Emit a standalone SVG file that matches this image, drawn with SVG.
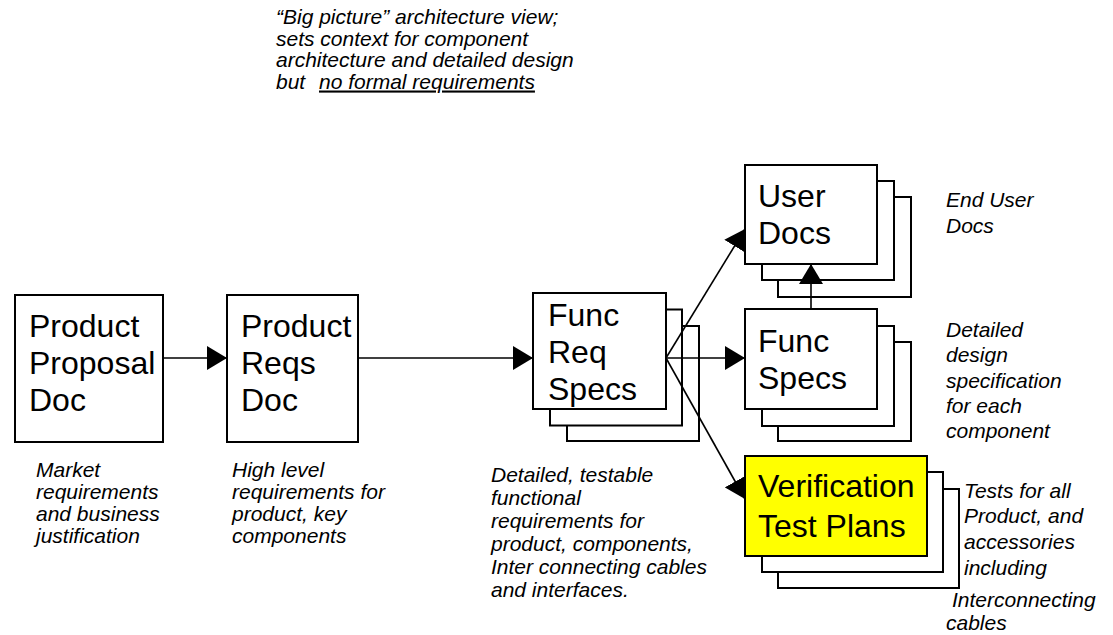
<svg xmlns="http://www.w3.org/2000/svg" width="1113" height="635" viewBox="0 0 1113 635">
<style>
.box{fill:#fff;stroke:#000;stroke-width:2}
.hl{fill:#ffff00;stroke:#000;stroke-width:2}
.big{font-family:"Liberation Sans",Arial,sans-serif;font-size:32px;fill:#000}
.note{font-family:"Liberation Sans",Arial,sans-serif;font-size:21px;font-style:italic;fill:#000}
.conn{stroke:#000;stroke-width:1.6;fill:none;marker-end:url(#arr)}
</style>
<defs>
<marker id="arr" markerUnits="userSpaceOnUse" markerWidth="20" markerHeight="24" viewBox="0 0 20 24" refX="20" refY="12" orient="auto">
<path d="M0,0 L20,12 L0,24 z" fill="#000"/>
</marker>
</defs>
<g id="top-note">
<text class="note" x="276" y="24">“Big picture” architecture view;</text>
<text class="note" x="276" y="45.5">sets context for component</text>
<text class="note" x="276" y="67">architecture and detailed design</text>
<text class="note" x="276" y="88.5">but<tspan x="319" text-decoration="underline">no formal requirements</tspan></text>
</g>
<g id="node-proposal">
<rect class="box" x="15" y="295" width="148" height="147"/>
<text class="big" x="29" y="337">Product</text>
<text class="big" x="29" y="374">Proposal</text>
<text class="big" x="29" y="411">Doc</text>
</g>
<g id="node-reqs">
<rect class="box" x="227" y="295" width="131" height="147"/>
<text class="big" x="241" y="337">Product</text>
<text class="big" x="241" y="374">Reqs</text>
<text class="big" x="241" y="411">Doc</text>
</g>
<g id="node-funcreq">
<rect class="box" x="567" y="326" width="132" height="115"/>
<rect class="box" x="550" y="309.5" width="132" height="116"/>
<rect class="box" x="533" y="293" width="133" height="116"/>
<text class="big" x="548" y="326">Func</text>
<text class="big" x="548" y="363">Req</text>
<text class="big" x="548" y="400">Specs</text>
</g>
<g id="node-userdocs">
<rect class="box" x="778" y="197" width="133" height="100"/>
<rect class="box" x="762" y="181" width="132" height="99"/>
<rect class="box" x="745" y="165" width="132" height="99"/>
<text class="big" x="758" y="207">User</text>
<text class="big" x="758" y="244">Docs</text>
</g>
<g id="node-funcspecs">
<rect class="box" x="778" y="342" width="133" height="99"/>
<rect class="box" x="762" y="326" width="132" height="100"/>
<rect class="box" x="745" y="309" width="132" height="100"/>
<text class="big" x="758" y="352">Func</text>
<text class="big" x="758" y="389">Specs</text>
</g>
<g id="node-vtp">
<rect class="box" x="778" y="489" width="181" height="99"/>
<rect class="box" x="762" y="472" width="181" height="100"/>
<rect class="hl" x="745" y="456" width="182" height="100"/>
<text class="big" x="758" y="497">Verification</text>
<text class="big" x="758" y="537">Test Plans</text>
</g>
<g id="connectors">
<line class="conn" x1="163" y1="358" x2="227" y2="358"/>
<line class="conn" x1="358" y1="358" x2="533" y2="358"/>
<line class="conn" x1="666" y1="358" x2="745" y2="358"/>
<line class="conn" x1="666" y1="358" x2="745" y2="229"/>
<line class="conn" x1="666" y1="358" x2="745" y2="499"/>
<line class="conn" x1="811" y1="309" x2="811" y2="264"/>
</g>
<g id="notes">
<text class="note" x="36" y="477">Market</text>
<text class="note" x="36" y="499">requirements</text>
<text class="note" x="36" y="521">and business</text>
<text class="note" x="36" y="543">justification</text>
<text class="note" x="232" y="477">High level</text>
<text class="note" x="232" y="499">requirements for</text>
<text class="note" x="232" y="521">product, key</text>
<text class="note" x="232" y="543">components</text>
<text class="note" x="491" y="482">Detailed, testable</text>
<text class="note" x="491" y="505">functional</text>
<text class="note" x="491" y="528">requirements for</text>
<text class="note" x="491" y="551">product, components,</text>
<text class="note" x="491" y="574">Inter connecting cables</text>
<text class="note" x="491" y="597">and interfaces.</text>
<text class="note" x="946" y="207">End User</text>
<text class="note" x="946" y="233">Docs</text>
<text class="note" x="946" y="337">Detailed</text>
<text class="note" x="946" y="362">design</text>
<text class="note" x="946" y="388">specification</text>
<text class="note" x="946" y="413">for each</text>
<text class="note" x="946" y="438">component</text>
<text class="note" x="964" y="498">Tests for all</text>
<text class="note" x="964" y="523">Product, and</text>
<text class="note" x="964" y="549">accessories</text>
<text class="note" x="964" y="575">including</text>
<text class="note" x="952" y="607">Interconnecting</text>
<text class="note" x="946" y="630">cables</text>
</g>
</svg>
